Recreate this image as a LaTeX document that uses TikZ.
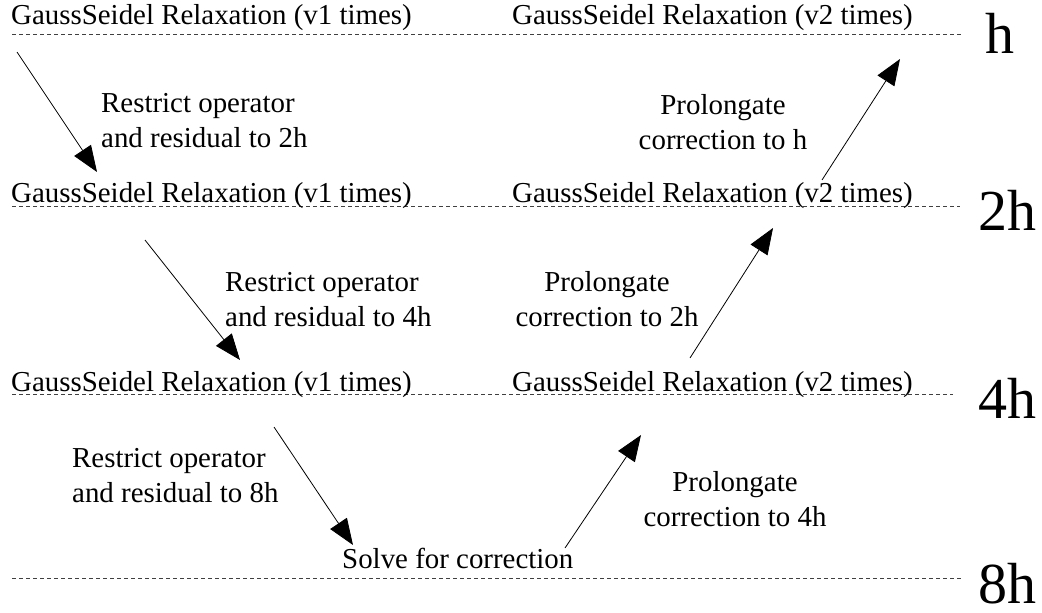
\documentclass[tikz,border=0pt]{standalone}
\usepackage{fontspec}
\setmainfont{Liberation Serif}
\usetikzlibrary{arrows.meta}
\begin{document}
\begin{tikzpicture}[x=1pt,y=-1pt,
  rowtext/.style={anchor=base west,inner sep=0pt,font=\fontsize{28.9}{35}\selectfont},
  lbl/.style={anchor=base west,inner sep=0pt,font=\fontsize{28.9}{35}\selectfont},
  lvl/.style={anchor=base west,inner sep=0pt,font=\fontsize{58}{60}\selectfont},
  gridline/.style={dashed,dash pattern=on 4pt off 3pt,line width=0.6pt,black!75},
  arr/.style={line width=0.8pt,-{Triangle[length=26pt,width=20pt]}}]
\useasboundingbox (0,0) rectangle (1042,613);
% level lines
\draw[gridline] (12,34) -- (962,34);
\draw[gridline] (12,206) -- (960,206);
\draw[gridline] (12,394) -- (953,394);
\draw[gridline] (12,578) -- (962,578);
% level labels
\node[lvl] (lh) at (985,53) {h};
\node[lvl] (l2h) at (978,230) {2h};
\node[lvl] (l4h) at (978,418) {4h};
\node[lvl] (l8h) at (978,603) {8h};
% relaxation texts
\node[rowtext] (r1a) at (11,24) {GaussSeidel Relaxation (v1 times)};
\node[rowtext] (r1b) at (512,24) {GaussSeidel Relaxation (v2 times)};
\node[rowtext] (r2a) at (11,202) {GaussSeidel Relaxation (v1 times)};
\node[rowtext] (r2b) at (512,202) {GaussSeidel Relaxation (v2 times)};
\node[rowtext] (r3a) at (11,391) {GaussSeidel Relaxation (v1 times)};
\node[rowtext] (r3b) at (512,391) {GaussSeidel Relaxation (v2 times)};
\node[rowtext] (solve) at (342,568) {Solve for correction};
% restrict labels (anchor = baseline of last line)
\node[lbl,align=left] (t1) at (101,147) {Restrict operator\\and residual to 2h};
\node[lbl,align=left] (t2) at (225,326) {Restrict operator\\and residual to 4h};
\node[lbl,align=left] (t3) at (72,502) {Restrict operator\\and residual to 8h};
% prolongate labels
\node[lbl,align=center,anchor=base] (p1) at (723,149) {Prolongate\\correction to h};
\node[lbl,align=center,anchor=base] (p2) at (607,326) {Prolongate\\correction to 2h};
\node[lbl,align=center,anchor=base] (p3) at (735,526) {Prolongate\\correction to 4h};
% arrow ends
\coordinate (a1s) at (17,52);   \coordinate (a1e) at (97,172);
\coordinate (a2s) at (145,240); \coordinate (a2e) at (240,360);
\coordinate (a3s) at (274,427); \coordinate (a3e) at (353,545);
\coordinate (a4s) at (565,548); \coordinate (a4e) at (641,435);
\coordinate (a5s) at (690,358); \coordinate (a5e) at (773,228);
\coordinate (a6s) at (822,180); \coordinate (a6e) at (900,59);
\draw[arr] (a1s) -- (a1e);
\draw[arr] (a2s) -- (a2e);
\draw[arr] (a3s) -- (a3e);
\draw[arr] (a4s) -- (a4e);
\draw[arr] (a5s) -- (a5e);
\draw[arr] (a6s) -- (a6e);
\end{tikzpicture}
\end{document}
